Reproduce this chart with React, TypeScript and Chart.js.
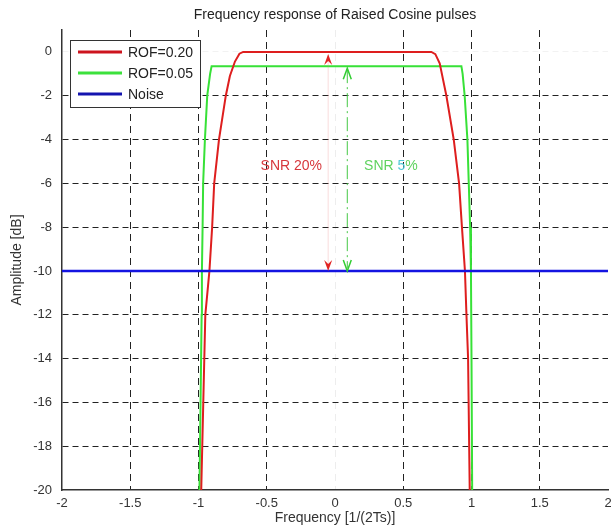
import { useEffect, useRef } from "react";
import { Chart, registerables } from "chart.js";

Chart.register(...registerables);

const chartTitle = "Frequency response of Raised Cosine pulses";
const xAxisTitle = "Frequency [1/(2Ts)]";
const yAxisTitle = "Amplitude [dB]";

const xTickValues = [-2, -1.5, -1, -0.5, 0, 0.5, 1, 1.5, 2];
const xTickLabels = ["-2", "-1.5", "-1", "-0.5", "0", "0.5", "1", "1.5", "2"];
const yTickValues = [-20, -18, -16, -14, -12, -10, -8, -6, -4, -2, 0];
const yTickLabels = ["-20", "-18", "-16", "-14", "-12", "-10", "-8", "-6", "-4", "-2", "0"];

const seriesLabels = ["ROF=0.20", "ROF=0.05", "Noise"];

const rof20X = [-0.98, -0.965, -0.95, -0.935, -0.92, -0.9, -0.885, -0.85, -0.8, -0.77, -0.733, -0.7, -0.673, 0.706, 0.735, 0.767, 0.816, 0.87, 0.909, 0.93, 0.952, 0.963, 0.975, 0.987];
const rof20Y = [-20, -16, -12, -11, -10, -8, -6, -4, -2, -1.1, -0.44, -0.08, 0, 0, -0.1, -0.52, -2, -4, -6, -8, -10, -12, -14, -20];

const rof05X = [-0.993, -0.977, -0.975, -0.97, -0.966, -0.953, -0.936, -0.915, -0.904, 0.926, 0.935, 0.95, 0.97, 0.98, 0.99, 0.996, 1.0, 1.005];
const rof05Y = [-20, -12, -10, -8, -6, -4, -2, -1, -0.65, -0.65, -1, -2, -4, -6, -8, -10, -14, -20];

const noiseX = [-2, 2];
const noiseY = [-10, -10];

const snrLabelParts = [["SNR 20%"], ["SNR ", "5", "%"]];
const snrArrowX = [-0.05, 0.09];
const snrArrowTop = [0, -0.65];
const snrArrowBottom = [-10, -10];
const snrLabelX = [-0.32, 0.41];
const snrLabelY = [-5.2, -5.2];

const FONT = "'Liberation Sans', Arial, Helvetica, sans-serif";
const RED = "rgb(222,30,30)";
const GREEN = "rgb(55,225,55)";
const BLUE = "rgb(20,20,225)";

const toPoints = (xs: number[], ys: number[]) => xs.map((x, i) => ({ x, y: ys[i] }));

function drawHead(ctx: CanvasRenderingContext2D, x: number, y: number, dir: number, filled: boolean, color: string) {
  const len = 11;
  const half = 4;
  ctx.save();
  ctx.setLineDash([]);
  if (filled) {
    ctx.fillStyle = color;
    ctx.beginPath();
    ctx.moveTo(x, y);
    ctx.lineTo(x - half, y - dir * len);
    ctx.lineTo(x, y - dir * (len - 4));
    ctx.lineTo(x + half, y - dir * len);
    ctx.closePath();
    ctx.fill();
  } else {
    ctx.strokeStyle = color;
    ctx.lineWidth = 1.5;
    ctx.beginPath();
    ctx.moveTo(x - half, y - dir * len);
    ctx.lineTo(x, y);
    ctx.lineTo(x + half, y - dir * len);
    ctx.stroke();
  }
  ctx.restore();
}

const overlayPlugin = {
  id: "overlay",
  afterDatasetsDraw(chart: any) {
    const ctx: CanvasRenderingContext2D = chart.ctx;
    const xs = chart.scales.x;
    const ys = chart.scales.y;
    const ca = chart.chartArea;

    // SNR arrows
    const shaftColors = ["rgba(235,120,120,0.25)", "rgb(70,200,70)"];
    const headColors = ["rgb(225,35,35)", "rgb(50,205,50)"];
    snrArrowX.forEach((xv, i) => {
      const px = xs.getPixelForValue(xv);
      const top = ys.getPixelForValue(snrArrowTop[i]);
      const bot = ys.getPixelForValue(snrArrowBottom[i]);
      ctx.save();
      ctx.strokeStyle = shaftColors[i];
      ctx.lineWidth = 1;
      ctx.setLineDash(i === 0 ? [] : [14, 4, 2, 4]);
      ctx.beginPath();
      ctx.moveTo(px, top + 3);
      ctx.lineTo(px, bot - 3);
      ctx.stroke();
      ctx.restore();
      drawHead(ctx, px, top + 2, -1, i === 0, headColors[i]);
      drawHead(ctx, px, bot, 1, i === 0, headColors[i]);
    });

    // SNR labels (piecewise coloured)
    const partColors = [["rgb(215,55,60)"], ["rgb(95,210,95)", "rgb(80,200,215)", "rgb(95,210,95)"]];
    ctx.save();
    ctx.font = `14px ${FONT}`;
    ctx.textBaseline = "middle";
    ctx.textAlign = "left";
    snrLabelParts.forEach((parts, i) => {
      const total = parts.reduce((s, p) => s + ctx.measureText(p).width, 0);
      let x = xs.getPixelForValue(snrLabelX[i]) - total / 2;
      const y = ys.getPixelForValue(snrLabelY[i]);
      parts.forEach((p, j) => {
        ctx.fillStyle = partColors[i][j];
        ctx.fillText(p, x, y);
        x += ctx.measureText(p).width;
      });
    });
    ctx.restore();

    // title centred over plot area
    ctx.save();
    ctx.font = `14px ${FONT}`;
    ctx.fillStyle = "#222";
    ctx.textAlign = "center";
    ctx.textBaseline = "middle";
    ctx.fillText(chartTitle, (ca.left + ca.right) / 2, 15);
    ctx.restore();
  },
  afterDraw(chart: any) {
    const ctx: CanvasRenderingContext2D = chart.ctx;
    const ca = chart.chartArea;
    const bx = ca.left + 8;
    const by = ca.top + 10;
    const bw = 130;
    const bh = 67;
    ctx.save();
    ctx.fillStyle = "#fff";
    ctx.fillRect(bx, by, bw, bh);
    ctx.strokeStyle = "#333";
    ctx.lineWidth = 1;
    ctx.strokeRect(bx + 0.5, by + 0.5, bw, bh);
    const legendColors = ["rgb(205,20,30)", "rgb(60,225,60)", "rgb(20,20,175)"];
    chart.data.datasets.forEach((ds: any, i: number) => {
      const ry = by + 12 + i * 21;
      ctx.strokeStyle = legendColors[i];
      ctx.lineWidth = 3;
      ctx.beginPath();
      ctx.moveTo(bx + 8, ry);
      ctx.lineTo(bx + 52, ry);
      ctx.stroke();
      ctx.fillStyle = "#222";
      ctx.font = `14px ${FONT}`;
      ctx.textBaseline = "middle";
      ctx.textAlign = "left";
      ctx.fillText(ds.label, bx + 58, ry + 1);
    });
    ctx.restore();
  },
};

export default function App() {
  const ref = useRef<HTMLCanvasElement>(null);

  useEffect(() => {
    if (!ref.current) return;
    const chart = new Chart(ref.current, {
      type: "scatter",
      data: {
        datasets: [
          {
            label: seriesLabels[0],
            data: toPoints(rof20X, rof20Y),
            borderColor: RED,
            backgroundColor: RED,
            borderWidth: 2,
            showLine: true,
            pointRadius: 0,
            order: 1,
          },
          {
            label: seriesLabels[1],
            data: toPoints(rof05X, rof05Y),
            borderColor: GREEN,
            backgroundColor: GREEN,
            borderWidth: 2,
            showLine: true,
            pointRadius: 0,
            order: 2,
          },
          {
            label: seriesLabels[2],
            data: toPoints(noiseX, noiseY),
            borderColor: BLUE,
            backgroundColor: BLUE,
            borderWidth: 2.5,
            showLine: true,
            pointRadius: 0,
            order: 0,
          },
        ],
      },
      options: {
        responsive: false,
        animation: false,
        layout: { padding: { top: 30, left: 0, right: 3, bottom: 0 } },
        plugins: {
          legend: { display: false },
          tooltip: { enabled: false },
          title: { display: false },
        },
        scales: {
          x: {
            type: "linear",
            min: -2,
            max: 2,
            afterBuildTicks: (scale: any) => {
              scale.ticks = xTickValues.map((v) => ({ value: v }));
            },
            afterFit: (scale: any) => {
              scale.height = 38;
              scale.paddingLeft = 0;
              scale.paddingRight = 0;
            },
            ticks: {
              callback: (_v: any, i: number) => xTickLabels[i],
              padding: 6,
              maxRotation: 0,
              autoSkip: false,
              color: "#333",
              font: { family: FONT, size: 13 },
            },
            grid: {
              drawTicks: false,
              lineWidth: 1,
              color: (c: any) => {
                const v = c.tick ? c.tick.value : null;
                if (v === -2 || v === 2) return "rgba(0,0,0,0)";
                if (v === 0) return "rgba(0,0,0,0.07)";
                return "#222";
              },
            },
            border: { display: true, color: "#333", width: 1.5, dash: [7, 5] },
            title: {
              display: true,
              text: xAxisTitle,
              color: "#333",
              font: { family: FONT, size: 14 },
              padding: { top: 0, bottom: 1 },
            },
          },
          y: {
            type: "linear",
            min: -20,
            max: 1,
            afterBuildTicks: (scale: any) => {
              scale.ticks = yTickValues.map((v) => ({ value: v }));
            },
            afterFit: (scale: any) => {
              scale.width = 62;
            },
            ticks: {
              callback: (_v: any, i: number) => yTickLabels[i],
              padding: 10,
              autoSkip: false,
              color: "#333",
              font: { family: FONT, size: 13 },
            },
            grid: {
              drawTicks: false,
              lineWidth: 1,
              color: (c: any) => {
                const v = c.tick ? c.tick.value : null;
                if (v === -20) return "rgba(0,0,0,0)";
                if (v === 0) return "rgba(0,0,0,0.05)";
                return "#222";
              },
            },
            border: { display: true, color: "#333", width: 1.5, dash: [6, 4] },
            title: {
              display: true,
              text: yAxisTitle,
              color: "#333",
              font: { family: FONT, size: 14 },
              padding: { top: 9, bottom: 0 },
            },
          },
        },
      },
      plugins: [overlayPlugin],
    } as any);
    return () => chart.destroy();
  }, []);

  return (
    <div style={{ position: "fixed", left: 0, top: 0, width: 611, height: 528, background: "#fff" }}>
      <canvas ref={ref} width={611} height={528} style={{ display: "block" }} />
    </div>
  );
}
